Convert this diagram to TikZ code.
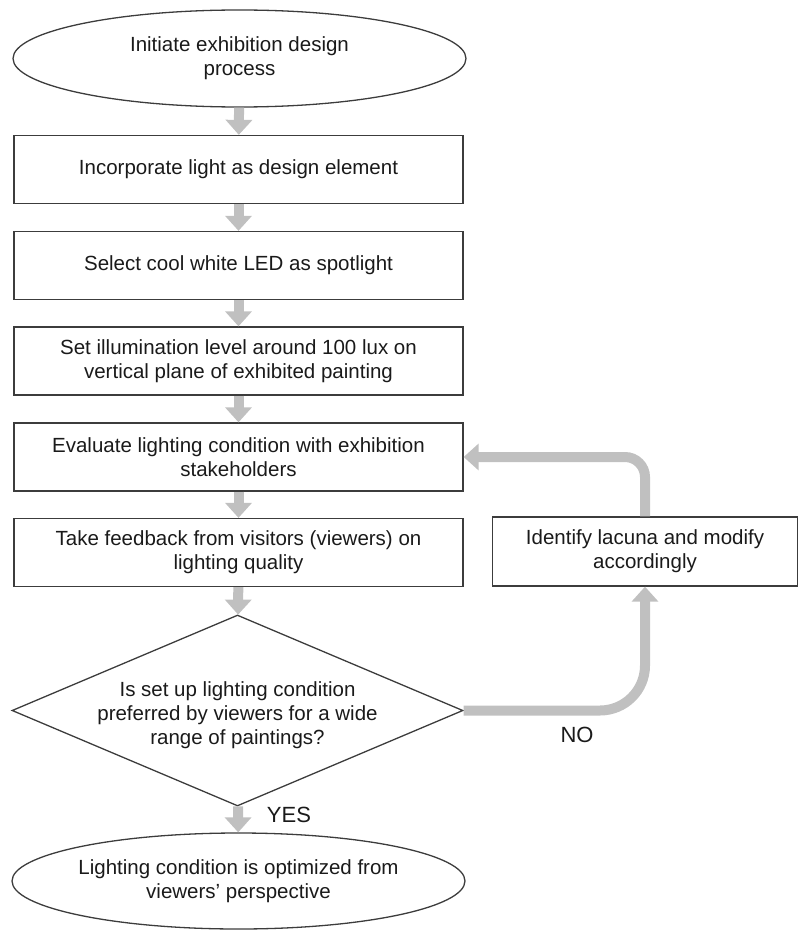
\documentclass[tikz,border=0pt]{standalone}
\usepackage{fontspec}
\setmainfont{Liberation Sans}
\usetikzlibrary{shapes.geometric,arrows.meta,calc}
\definecolor{inkc}{HTML}{1A1A1A}
\definecolor{edgec}{HTML}{3C3C3C}
\definecolor{flowc}{HTML}{C0C0C0}
\begin{document}
\begin{tikzpicture}[x=1pt,y=-1pt,
  every node/.style={font=\fontsize{20.5}{24}\selectfont, text=inkc},
  terminal/.style={ellipse, draw=edgec, line width=1.3pt, minimum width=453pt,
    minimum height=97pt, inner sep=0pt, align=center},
  stepbox/.style={rectangle, draw=edgec, line width=1.3pt, minimum width=449pt,
    minimum height=68pt, inner sep=0pt, align=center},
  decision/.style={diamond, draw=edgec, line width=1.3pt, minimum width=451pt,
    minimum height=191pt, inner sep=0pt},
  answer/.style={font=\fontsize{22}{26}\selectfont},
  flow/.style={draw=flowc, line width=10pt,
    -{Triangle[width=26pt,length=15pt]}, flowc}
]
\useasboundingbox (0,0) rectangle (799,931);

% main column
\node[terminal] (start) at (239.5,58.5) {Initiate exhibition design\\process};
\node[stepbox] (light) at (238.5,169.5) {Incorporate light as design element};
\node[stepbox] (led) at (238.5,265.5) {Select cool white LED as spotlight};
\node[stepbox] (lux) at (238.5,361) {Set illumination level around 100 lux on\\vertical plane of exhibited painting};
\node[stepbox] (eval) at (238.5,457) {Evaluate lighting condition with exhibition\\stakeholders};
\node[stepbox] (feedback) at (238.5,552.5) {Take feedback from visitors (viewers) on\\lighting quality};
\node[decision] (query) at (237.5,710.5) {};
\node[align=center] (querytext) at ($(query)+(0,5)$) {Is set up lighting condition\\preferred by viewers for a wide\\range of paintings?};
\node[terminal, minimum height=96pt] (done) at (238.5,881) {Lighting condition is optimized from\\viewers' perspective};

% side branch
\node[stepbox, minimum width=305pt, minimum height=69pt] (fix) at (645,551.5) {Identify lacuna and modify\\accordingly};

% answer labels
\node[answer] (yes) at (289,815) {YES};
\node[answer] (no) at (577,735) {NO};

% connectors
\draw[flow] (start) -- (light);
\draw[flow] (light) -- (led);
\draw[flow] (led) -- (lux);
\draw[flow] (lux) -- (eval);
\draw[flow] (eval) -- (feedback);
\draw[flow] (feedback) -- (query);
\draw[flow] (query) -- (done);
\draw[flow, rounded corners=45pt] (query.east) -| (fix.south);
\draw[flow, rounded corners=20pt] (fix.north) |- (eval.east);
\end{tikzpicture}
\end{document}
